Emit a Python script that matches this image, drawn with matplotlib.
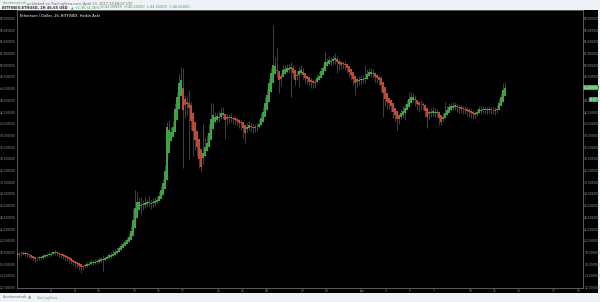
import matplotlib.pyplot as plt
import matplotlib.dates as mdates
from matplotlib.patches import Rectangle
import pandas as pd

# Heikin Ashi closes, 4h candles from Mar 3 2017 06:00 (ETHUSD, Bitfinex)
closes = [
    17.6, 17.7, 17.8, 17.9, 17.9, 17.7, 17.5, 17.3, 17.1, 16.9,
    17.0, 17.1, 17.2, 17.4, 17.5, 17.6, 17.7, 17.8, 18.0, 18.1,
    17.9, 17.7, 17.5, 17.4, 17.2, 17.0, 16.8, 16.6, 16.4, 16.2,
    16.0, 15.7, 15.5, 15.5, 15.8, 16.0, 16.1, 16.3, 16.3, 16.4,
    16.5, 16.7, 16.8, 16.9, 17.1, 17.3, 17.5, 17.6, 17.8, 18.1,
    18.3, 18.7, 19.1, 19.5, 19.8, 20.1, 20.6, 21.6, 23.6, 25.6,
    26.6, 26.6, 26.2, 26.3, 26.5, 26.6, 26.5, 26.4, 26.6, 26.8,
    27.0, 27.6, 28.6, 29.9, 32.0, 39.5, 39.0, 38.6, 39.5, 42.5,
    44.5, 47.0, 47.5, 42.4, 43.2, 43.4, 42.7, 40.5, 38.8, 37.2,
    36.0, 34.0, 32.6, 35.0, 36.0, 36.7, 38.5, 40.8, 41.5, 41.2,
    41.3, 41.2, 41.8, 41.9, 40.6, 40.9, 41.0, 41.1, 40.8, 40.6,
    40.4, 40.1, 40.2, 39.3, 38.4, 39.5, 39.8, 39.4, 39.3, 39.4,
    39.5, 40.0, 41.0, 42.0, 43.6, 45.0, 47.0, 48.7, 50.1, 49.8,
    49.0, 47.4, 47.6, 49.2, 49.3, 49.5, 49.5, 49.7, 48.7, 47.5,
    48.2, 49.0, 49.2, 48.4, 47.8, 47.6, 47.2, 47.1, 47.0, 47.0,
    47.8, 48.2, 49.0, 49.6, 50.6, 50.5, 50.9, 50.8, 51.0, 51.2,
    50.5, 50.2, 50.1, 50.2, 50.1, 49.5, 48.9, 48.3, 47.6, 47.0,
    47.2, 47.5, 47.6, 47.7, 47.8, 48.5, 48.9, 48.8, 48.6, 48.0,
    47.8, 47.5, 46.6, 45.3, 44.2, 43.7, 43.5, 43.0, 42.0, 41.5,
    40.8, 40.9, 41.8, 42.2, 42.7, 43.3, 44.2, 44.5, 44.6, 44.0,
    43.3, 43.2, 43.3, 43.2, 42.2, 41.2, 41.6, 42.0, 42.1, 42.0,
    42.0, 41.0, 40.3, 41.2, 41.8, 42.3, 42.8, 43.0, 43.1, 43.2,
    42.8, 42.7, 42.6, 42.5, 42.4, 42.2, 42.0, 41.8, 41.7, 41.5,
    42.0, 42.5, 42.4, 42.5, 42.4, 42.4, 42.5, 42.4, 42.3, 42.2,
    42.6, 43.5, 44.5, 45.8, 46.2,
]
highs = [
    18.0, 18.1, 18.2, 18.2, 18.3, 18.0, 17.8, 17.6, 17.4, 17.2,
    17.3, 17.4, 17.5, 17.7, 17.8, 17.9, 18.0, 18.1, 18.3, 18.5,
    18.2, 18.0, 17.8, 17.7, 17.5, 17.3, 17.1, 16.9, 16.7, 16.6,
    16.3, 16.1, 15.9, 15.9, 16.2, 16.4, 16.5, 16.8, 16.7, 16.8,
    16.9, 17.2, 17.3, 17.6, 17.4, 17.6, 17.9, 18.1, 18.4, 18.6,
    18.7, 19.1, 19.6, 20.0, 20.3, 20.7, 21.3, 22.5, 25.5, 28.7,
    28.5, 27.4, 27.5, 27.0, 27.4, 27.2, 27.6, 27.0, 27.3, 27.5,
    27.6, 28.3, 29.3, 30.6, 33.0, 40.3, 40.6, 39.5, 40.4, 43.5,
    45.5, 48.5, 49.7, 49.5, 45.0, 44.8, 45.8, 43.8, 41.5, 39.8,
    38.0, 36.0, 34.5, 40.0, 37.5, 38.0, 40.0, 43.5, 43.5, 42.0,
    42.0, 42.2, 42.9, 42.8, 41.8, 41.6, 41.6, 41.8, 41.4, 41.2,
    41.0, 40.8, 40.7, 40.2, 39.5, 40.2, 40.4, 40.2, 40.0, 40.0,
    40.2, 40.8, 41.8, 42.8, 44.5, 46.0, 47.8, 49.5, 56.9, 51.5,
    53.0, 48.7, 48.6, 50.0, 50.0, 50.2, 50.2, 50.5, 50.0, 48.5,
    49.0, 49.7, 50.0, 49.6, 48.6, 48.3, 48.0, 47.8, 47.7, 47.6,
    48.5, 48.9, 49.7, 50.3, 52.3, 51.3, 51.6, 51.5, 51.8, 52.1,
    51.6, 51.0, 50.8, 50.8, 50.7, 50.4, 49.7, 49.1, 48.4, 47.9,
    47.8, 48.1, 48.3, 48.4, 50.0, 49.3, 49.6, 49.5, 49.3, 48.8,
    48.5, 48.3, 48.2, 47.0, 45.5, 44.8, 44.3, 44.0, 43.3, 42.5,
    41.8, 41.7, 42.5, 43.0, 43.4, 44.0, 45.4, 45.4, 45.3, 45.0,
    44.0, 43.8, 44.0, 43.8, 43.4, 42.5, 42.3, 42.7, 42.8, 42.7,
    42.6, 42.2, 41.5, 41.9, 43.7, 43.0, 43.4, 43.6, 43.7, 43.8,
    43.5, 43.3, 43.2, 43.1, 43.0, 42.9, 42.7, 42.5, 42.3, 42.2,
    42.6, 43.0, 43.0, 43.0, 42.9, 42.9, 43.0, 42.9, 42.8, 42.8,
    43.2, 44.2, 45.3, 47.0, 47.2,
]
lows = [
    17.0, 17.3, 17.4, 17.5, 17.4, 17.2, 17.0, 16.8, 16.6, 16.4,
    16.5, 16.7, 16.8, 16.9, 17.0, 17.2, 17.3, 17.4, 17.5, 17.6,
    17.4, 17.2, 17.0, 16.9, 16.7, 16.5, 16.2, 16.0, 15.8, 15.6,
    15.4, 15.0, 14.5, 15.0, 15.3, 15.5, 15.7, 15.8, 15.9, 16.0,
    16.1, 16.2, 16.3, 14.8, 16.6, 16.8, 17.0, 17.1, 17.3, 17.5,
    17.8, 18.2, 18.6, 19.0, 19.3, 19.6, 20.0, 20.8, 22.5, 24.5,
    25.0, 25.6, 24.4, 25.3, 25.6, 25.8, 25.7, 25.4, 25.7, 26.0,
    26.4, 26.9, 27.8, 29.0, 30.8, 32.5, 37.8, 37.5, 38.0, 39.0,
    42.0, 44.0, 46.0, 32.5, 41.0, 41.5, 34.0, 39.0, 34.5, 35.5,
    34.5, 32.5, 31.8, 33.0, 35.0, 35.5, 37.0, 39.5, 40.5, 40.2,
    40.4, 40.3, 40.9, 40.8, 37.6, 39.8, 40.2, 40.3, 40.0, 39.8,
    39.6, 39.3, 39.0, 37.5, 36.7, 38.6, 38.9, 38.6, 38.5, 38.6,
    38.8, 39.3, 40.2, 41.2, 42.8, 44.2, 46.0, 47.8, 49.2, 48.5,
    47.8, 45.3, 46.5, 48.3, 48.5, 48.7, 48.6, 44.6, 47.8, 46.6,
    47.4, 46.3, 48.3, 47.6, 47.0, 46.8, 46.4, 46.2, 46.2, 46.2,
    47.0, 47.5, 48.3, 48.9, 49.8, 49.8, 50.1, 50.0, 50.2, 50.3,
    48.7, 49.2, 49.3, 49.4, 49.2, 48.6, 48.0, 47.4, 46.6, 44.9,
    46.3, 46.7, 46.8, 47.0, 47.0, 47.6, 48.1, 48.0, 47.8, 47.1,
    46.9, 46.6, 45.5, 41.2, 43.0, 42.6, 42.5, 42.0, 41.0, 40.5,
    38.9, 40.0, 40.8, 41.0, 40.6, 42.4, 43.3, 43.7, 43.8, 43.0,
    42.4, 42.0, 42.4, 42.3, 41.2, 39.3, 40.7, 41.2, 41.3, 41.2,
    41.2, 39.8, 39.8, 40.4, 41.0, 41.5, 42.0, 42.2, 42.3, 42.4,
    42.0, 41.9, 41.8, 41.7, 41.6, 41.4, 41.2, 41.0, 40.9, 40.8,
    41.3, 41.8, 41.7, 41.8, 41.7, 41.7, 41.8, 41.7, 41.6, 41.5,
    41.9, 42.8, 43.8, 45.0, 45.6,
]

start = '2017-03-03 06:00'
tick_dates = ['2017-03-06', '2017-03-08', '2017-03-10', '2017-03-13', '2017-03-15',
              '2017-03-17', '2017-03-20', '2017-03-22', '2017-03-24', '2017-03-27',
              '2017-03-29', '2017-04-01', '2017-04-03', '2017-04-05', '2017-04-07',
              '2017-04-10', '2017-04-12', '2017-04-14', '2017-04-17', '2017-04-19']
tick_labels = ['6', '8', '10', '13', '15', '17', '20', '22', '24', '27',
               '29', 'Apr', '3', '5', '7', '10', '12', '14', '17', '19']
price_ticks = list(range(12, 59, 2))

n = min(len(closes), len(highs), len(lows))
times = list(mdates.date2num(pd.date_range(start, periods=n, freq='4h')))

# heikin ashi opens
opens = [closes[0] + 0.2]
for i in range(1, n):
    opens.append((opens[i - 1] + closes[i - 1]) / 2)

up_col = '#45bc4a'
down_col = '#db5539'
wick_col = '#5a5a5a'
axis_txt = '#9a9a9a'

fig = plt.figure(figsize=(6, 3.02), dpi=100, facecolor='#eef1f5')
fig.patches.append(Rectangle((0, 0.0298), 0.9967, 0.9371, transform=fig.transFigure,
                             facecolor='black', edgecolor='none', zorder=-5))

ax = fig.add_axes([0.0283, 0.0464, 0.9433, 0.9205], facecolor='black')
ax.set_zorder(2)

tops, bots, cols, b_lo, b_hi = [], [], [], [], []
for i in range(n):
    o, c = opens[i], closes[i]
    tops.append(max(highs[i], o, c))
    bots.append(min(lows[i], o, c))
    cols.append(up_col if c >= o else down_col)
    lo, hi = min(o, c), max(o, c)
    if hi - lo < 0.15:
        mid = (hi + lo) / 2
        lo, hi = mid - 0.075, mid + 0.075
    b_lo.append(lo)
    b_hi.append(hi)

# wicks, then bodies drawn as thick vertical segments
ax.vlines(times, bots, tops, colors=wick_col, linewidth=0.5, zorder=2)
ax.vlines(times, b_lo, b_hi, colors=cols, linewidth=1.2, zorder=3)

ax.set_xlim(mdates.date2num(pd.Timestamp('2017-03-03 05:00')),
            mdates.date2num(pd.Timestamp('2017-04-19 10:00')))
ax.set_ylim(11.93, 59.45)

ax.set_xticks(mdates.date2num(pd.to_datetime(tick_dates)))
ax.set_xticklabels(tick_labels)
ax.set_yticks(price_ticks)
ax.set_yticklabels([f'{p:.6f}' for p in price_ticks])
ax.tick_params(axis='both', length=0, colors=axis_txt, labelsize=2.1,
               labelleft=True, labelright=True, pad=0.9)
ax.tick_params(axis='x', pad=1.0)
for s in ax.spines.values():
    s.set_color('#6a6a6a')
    s.set_linewidth(0.6)

ax.text(0.006, 0.985, 'Ethereum / Dollar, 2h, BITFINEX, Heikin Ashi', transform=ax.transAxes,
        ha='left', va='top', color='white', fontsize=2.6)

# last price marker on right scale
last = closes[n - 1]
ax.text(1.002, last, f'{last:.6f}', transform=ax.get_yaxis_transform(), ha='left', va='center',
        fontsize=2.0, color='white', clip_on=False, zorder=10,
        bbox=dict(boxstyle='square,pad=0.3', fc='#3bb54a', ec='none'))
ax.text(1.012, last - 2.1, '13:02', transform=ax.get_yaxis_transform(), ha='left', va='center',
        fontsize=1.8, color='white', clip_on=False, zorder=10,
        bbox=dict(boxstyle='square,pad=0.25', fc='#3bb54a', ec='none'))

# header and footer
fig.text(0.004, 1 - 3.5 / 302, 'idontamaterk', color='#5aa060', fontsize=2.5, va='center')
fig.text(0.045, 1 - 3.5 / 302, 'published on TradingView.com, April 13, 2017 13:58:07 UTC',
         color='#666666', fontsize=2.5, va='center')
fig.text(0.004, 1 - 7.5 / 302, 'BITFINEX:ETHUSD, 2H 46.65 USD', color='#333333', fontsize=2.5,
         va='center', weight='bold')
fig.text(0.118, 1 - 7.5 / 302, '\u25b2 +1.95 (4.36%)', color='#3fa34d', fontsize=2.5, va='center')
fig.text(0.168, 1 - 7.5 / 302, 'O:44.99999  H:46.65000  L:44.55000  C:46.65000',
         color='#3fa34d', fontsize=2.5, va='center')
fig.text(0.004, 1 - 297.5 / 302, 'idontamaterk', color='#666666', fontsize=2.5, va='center')
fig.text(0.047, 1 - 297.5 / 302, '\u25b2', color='#5aa060', fontsize=3, va='center')
fig.text(0.06, 1 - 297.5 / 302, 'TradingView', color='#7aa57f', fontsize=2.5, va='center')

fig.savefig('out.png', dpi=100, facecolor=fig.get_facecolor())
